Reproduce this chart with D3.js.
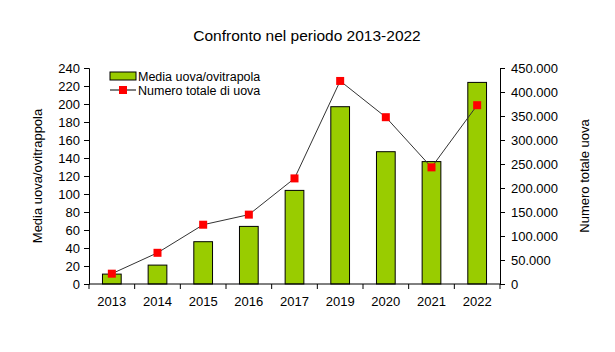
<!DOCTYPE html>
<html>
<head>
<meta charset="utf-8">
<script src="https://cdn.jsdelivr.net/npm/d3@7"></script>
<style>
  body { margin: 0; background: #fff; }
  text { font-family: "Liberation Sans", Arial, sans-serif; fill: #000; }
</style>
</head>
<body>
<div id="chart"></div>
<script>
// Data
const years = ["2013", "2014", "2015", "2016", "2017", "2019", "2020", "2021", "2022"];
const mediaUova = [11, 21, 47, 64, 104, 197, 147, 136, 224];
const totaleUova = [21500, 65000, 123500, 144500, 220000, 423000, 347500, 243000, 372500];
const leftTicks = d3.range(0, 241, 20);
const rightTicks = d3.range(0, 450001, 50000);

const W = 615, H = 352;
const margin = {top: 68, right: 115, bottom: 68, left: 89};
const width = W - margin.left - margin.right;
const height = H - margin.top - margin.bottom;

const svg = d3.select("#chart").append("svg")
  .attr("width", W)
  .attr("height", H);

const g = svg.append("g")
  .attr("transform", `translate(${margin.left},${margin.top})`);

// Scales
const x = d3.scaleBand().domain(years).range([0, width]);
const yL = d3.scaleLinear().domain([0, 240]).range([height, 0]);
const yR = d3.scaleLinear().domain([0, 450000]).range([height, 0]);
const itFmt = d3.formatLocale({decimal: ",", thousands: ".", grouping: [3], currency: ["€", ""]}).format(",d");

// Title
svg.append("text")
  .attr("x", 307)
  .attr("y", 41)
  .attr("text-anchor", "middle")
  .style("font-size", "15.5px")
  .text("Confronto nel periodo 2013-2022");

// Bars
const barW = x.bandwidth() * 0.41;
g.selectAll(".bar")
  .data(years)
  .enter()
  .append("rect")
    .attr("class", "bar")
    .attr("x", (d) => x(d) + (x.bandwidth() - barW) / 2)
    .attr("y", (d, i) => yL(mediaUova[i]))
    .attr("width", barW)
    .attr("height", (d, i) => height - yL(mediaUova[i]))
    .attr("fill", "#99cc00")
    .attr("stroke", "#000")
    .attr("stroke-width", 1);

// Left axis
const axL = g.append("g")
  .call(d3.axisLeft(yL).tickValues(leftTicks).tickSize(5).tickPadding(4));
axL.selectAll("text").style("font-size", "13px");

// Right axis
const axR = g.append("g")
  .attr("transform", `translate(${width},0)`)
  .call(d3.axisRight(yR).tickValues(rightTicks).tickFormat(itFmt).tickSize(5).tickPadding(6));
axR.selectAll("text").style("font-size", "13px");

// X axis (ticks at category boundaries)
const axX = g.append("g")
  .attr("transform", `translate(0,${height})`);
axX.append("line")
  .attr("x1", 0).attr("x2", width)
  .attr("stroke", "#000");
axX.selectAll(".tk")
  .data(d3.range(years.length + 1))
  .enter()
  .append("line")
    .attr("x1", (i) => i * x.step())
    .attr("x2", (i) => i * x.step())
    .attr("y1", 0).attr("y2", 5)
    .attr("stroke", "#000");
axX.selectAll(".lbl")
  .data(years)
  .enter()
  .append("text")
    .attr("x", (d) => x(d) + x.bandwidth() / 2)
    .attr("y", 22)
    .attr("text-anchor", "middle")
    .style("font-size", "13px")
    .text((d) => d);

[axL, axR].forEach((a) => {
  a.select(".domain").attr("stroke", "#000");
  a.selectAll(".tick line").attr("stroke", "#000");
});

// Line + markers
const line = d3.line()
  .x((d, i) => x(years[i]) + x.bandwidth() / 2)
  .y((d) => yR(d));
g.append("path")
  .datum(totaleUova)
  .attr("d", line)
  .attr("fill", "none")
  .attr("stroke", "#333")
  .attr("stroke-width", 1);
g.selectAll(".mk")
  .data(totaleUova)
  .enter()
  .append("rect")
    .attr("x", (d, i) => x(years[i]) + x.bandwidth() / 2 - 4)
    .attr("y", (d) => yR(d) - 4)
    .attr("width", 8)
    .attr("height", 8)
    .attr("fill", "#ff0000");

// Axis titles
svg.append("text")
  .attr("transform", `translate(42,176) rotate(-90)`)
  .attr("text-anchor", "middle")
  .style("font-size", "13px")
  .text("Media uova/ovitrappola");
svg.append("text")
  .attr("transform", `translate(589,176) rotate(-90)`)
  .attr("text-anchor", "middle")
  .style("font-size", "13px")
  .text("Numero totale uova");

// Legend
const legend = svg.append("g").attr("transform", "translate(110,72)");
legend.append("rect")
  .attr("width", 26).attr("height", 8)
  .attr("fill", "#99cc00").attr("stroke", "#000");
legend.append("text")
  .attr("x", 28).attr("y", 8.5)
  .style("font-size", "12.5px")
  .text("Media uova/ovitrapola");
legend.append("line")
  .attr("x1", 0).attr("x2", 26)
  .attr("y1", 18).attr("y2", 18)
  .attr("stroke", "#000");
legend.append("rect")
  .attr("x", 9).attr("y", 14).attr("width", 8).attr("height", 8)
  .attr("fill", "#ff0000");
legend.append("text")
  .attr("x", 28).attr("y", 22.5)
  .style("font-size", "12.5px")
  .text("Numero totale di uova");
</script>
</body>
</html>
